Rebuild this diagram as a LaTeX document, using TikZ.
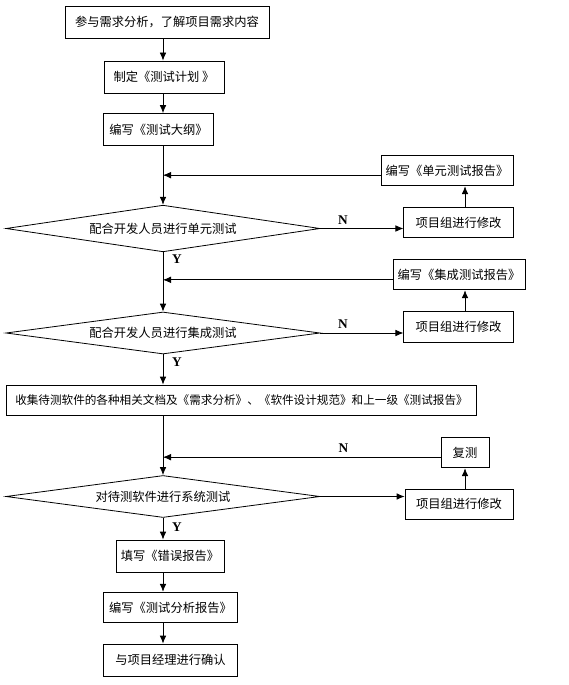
\documentclass[tikz,border=0pt]{standalone}
\usepackage{fontspec}
\setmainfont{Liberation Serif}
\newfontfamily\cjk{Noto Sans CJK SC}
\usepackage{tikz}
\usetikzlibrary{shapes,arrows.meta,positioning}
\tikzset{
      stepbox/.style = {draw, rectangle, line width=0.6pt, minimum height=24pt, inner sep=2pt, font=\cjk\fontsize{9.2}{10}\selectfont},
      choice/.style = {draw, diamond, aspect=7, line width=0.6pt, inner sep=0pt, font=\cjk\fontsize{9.2}{10}\selectfont},
      flowedge/.style = {black, line width=0.6pt, ->, >={Latex[length=6pt,width=5pt]}},
      yn/.style = {font=\bfseries\fontsize{10}{11}\selectfont, inner sep=1pt},
    }

\begin{document}
\begin{tikzpicture}[x=0.75pt,y=-0.75pt]
          \useasboundingbox (0,0) rectangle (568,685);
          \coordinate (spine) at (163,0);
          \coordinate (lift) at (465,0);

          \node[stepbox, minimum width=153pt] (req) at (167,22) {参与需求分析，了解项目需求内容};
          \node[stepbox, minimum width=90pt] (plan) at (164,77) {制定《测试计划 》};
          \node[stepbox, minimum width=82pt] (outline) at (158.5,129.5) {编写《测试大纲》};

          \node[choice, minimum width=235.5pt, minimum height=35pt] (unit) at (163,228.5) {配合开发人员进行单元测试};
          \node[stepbox, minimum width=82pt, minimum height=23pt] (unitfix) at (458.5,222.5) {项目组进行修改};
          \node[stepbox, minimum width=99pt, minimum height=23pt] (unitrep) at (447,170.5) {编写《单元测试报告》};

          \node[choice, minimum width=235.5pt, minimum height=31.5pt] (integ) at (163,333) {配合开发人员进行集成测试};
          \node[stepbox, minimum width=82pt, minimum height=23pt] (integfix) at (458.5,327) {项目组进行修改};
          \node[stepbox, minimum width=99pt, minimum height=23pt] (integrep) at (459,274.5) {编写《集成测试报告》};

          \node[stepbox, minimum width=353pt, minimum height=22.5pt, font=\cjk\fontsize{8.7}{10}\selectfont] (docs) at (241.5,400) {收集待测软件的各种相关文档及《需求分析》、《软件设计规范》和上一级《测试报告》};

          \node[choice, minimum width=235.5pt, minimum height=31.5pt] (system) at (163,496.5) {对待测软件进行系统测试};
          \node[stepbox, minimum width=81pt, minimum height=22.5pt] (sysfix) at (459,504) {项目组进行修改};
          \node[stepbox, minimum width=36pt, minimum height=23pt] (retest) at (465,452.5) {复测};

          \node[stepbox, minimum width=81pt] (bugrep) at (170,556) {填写《错误报告》};
          \node[stepbox, minimum width=100pt, minimum height=23pt] (analysis) at (170.5,607.5) {编写《测试分析报告》};
          \node[stepbox, minimum width=100pt] (confirm) at (170.5,660) {与项目经理进行确认};

          % main line
          \draw[flowedge] (req.south -| spine) -- (plan.north -| spine);
          \draw[flowedge] (plan.south -| spine) -- (outline.north -| spine);
          \draw[flowedge] (outline.south -| spine) -- (unit.north);
          \draw[flowedge] (unit.south) -- (integ.north);
          \draw[flowedge] (integ.south) -- (docs.north -| spine);
          \draw[flowedge] (docs.south -| spine) -- (system.north);
          \draw[flowedge] (system.south) -- (bugrep.north -| spine);
          \draw[flowedge] (bugrep.south -| spine) -- (analysis.north -| spine);
          \draw[flowedge] (analysis.south -| spine) -- (confirm.north -| spine);

          % unit test loop
          \draw[flowedge] (unit.east) -- (unitfix.west |- unit.east) node[yn, pos=0.27, above=2pt] (n1) {N};
          \draw[flowedge] (unitfix.north -| lift) -- (unitrep.south -| lift);
          \draw[flowedge] ([yshift=-3.5pt]unitrep.west) -- ([yshift=-3.5pt]unitrep.west -| spine);
          \node[yn] (y1) at ([shift={(14,7)}]unit.south) {Y};

          % integration test loop
          \draw[flowedge] (integ.east) -- (integfix.west |- integ.east) node[yn, pos=0.27, above=2pt] (n2) {N};
          \draw[flowedge] (integfix.north -| lift) -- (integrep.south -| lift);
          \draw[flowedge] ([yshift=-4pt]integrep.west) -- ([yshift=-4pt]integrep.west -| spine);
          \node[yn] (y2) at ([shift={(14,8)}]integ.south) {Y};

          % system test loop
          \draw[flowedge] (system.east) -- (sysfix.west |- system.east);
          \draw[flowedge] (sysfix.north -| lift) -- (retest.south -| lift);
          \draw[flowedge] ([yshift=-3.5pt]retest.west) -- ([yshift=-3.5pt]retest.west -| spine) node[yn, pos=0.35, above=2pt] (n3) {N};
          \node[yn] (y3) at ([shift={(14,9)}]system.south) {Y};
\end{tikzpicture}
\end{document}
